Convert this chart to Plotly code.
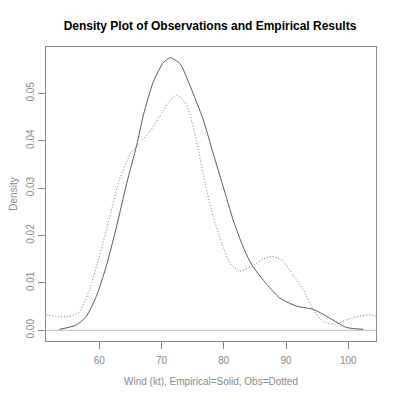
import plotly.graph_objects as go

# Empirical (solid) density curve
emp_x = [53.6, 56.3, 57.9, 59.5, 61.1, 62.7, 64.4, 66.0, 67.1, 68.7, 70.3, 71.4, 73.0, 74.6,
         76.7, 78.3, 79.9, 81.5, 83.1, 84.5, 86.9, 89.0, 91.7, 94.4, 97.1, 99.7, 102.4]
emp_y = [0.0002, 0.0011, 0.0029, 0.0071, 0.0134, 0.0215, 0.0310, 0.0390, 0.0455, 0.0525, 0.0565,
         0.0575, 0.0562, 0.0515, 0.0444, 0.0373, 0.0303, 0.0233, 0.0176, 0.0138, 0.0097, 0.0068,
         0.0051, 0.0044, 0.0025, 0.0006, 0.0002]

# Observations (dotted) density curve
obs_x = [51.0, 53.6, 55.2, 56.8, 58.4, 60.0, 61.7, 63.2, 64.9, 66.0, 68.1, 70.3, 71.4, 72.4,
         73.2, 74.0, 74.6, 75.6, 77.0, 78.3, 79.7, 81.0, 82.6, 84.5, 86.3, 87.6, 88.6, 89.6,
         91.2, 92.8, 94.4, 96.0, 97.9, 99.7, 101.9, 103.5, 105.0]
obs_y = [0.0033, 0.0029, 0.0029, 0.0039, 0.0085, 0.0155, 0.0240, 0.0316, 0.0370, 0.0389, 0.0419,
         0.0464, 0.0486, 0.0496, 0.0490, 0.0476, 0.0454, 0.0400, 0.0310, 0.0240, 0.0184, 0.0141,
         0.0125, 0.0135, 0.0150, 0.0156, 0.0153, 0.0145, 0.0115, 0.0085, 0.0043, 0.0018, 0.0013,
         0.0022, 0.0030, 0.0032, 0.0028]

x_ticks = [60, 70, 80, 90, 100]
y_ticks = [0.00, 0.01, 0.02, 0.03, 0.04, 0.05]
y_tick_text = ["0.00", "0.01", "0.02", "0.03", "0.04", "0.05"]

FONT = "Liberation Sans, Arial, sans-serif"
GRAY = "#8a8a8a"

# The page body adds an 8px margin at top/left, so the figure is 8px smaller.
W, H = 392, 391

fig = go.Figure()
fig.add_trace(go.Scatter(x=obs_x, y=obs_y, mode="lines",
                         line=dict(color="#7a7a7a", width=1, dash="1px,2px", shape="spline",
                                   smoothing=0.6),
                         showlegend=False, hoverinfo="skip"))
fig.add_trace(go.Scatter(x=emp_x, y=emp_y, mode="lines",
                         line=dict(color="#5a5a5a", width=1, shape="spline", smoothing=0.6),
                         showlegend=False, hoverinfo="skip"))

fig.add_shape(type="line", xref="paper", yref="y", x0=0, x1=1, y0=0, y1=0,
              line=dict(color="#c0c0c0", width=1), layer="below")

fig.update_layout(
    width=W, height=H,
    margin=dict(l=38, r=24, t=39, b=58),
    paper_bgcolor="white", plot_bgcolor="white",
    font=dict(family=FONT, color=GRAY, size=10),
    title=dict(text="<b>Density Plot of Observations and Empirical Results</b>",
               x=(210 - 8) / W, xanchor="center", y=1 - 17.5 / H, yanchor="middle",
               font=dict(family=FONT, size=12, color="#000000")),
    xaxis=dict(range=[51.44, 104.45], tickvals=x_ticks, ticks="outside", ticklen=7,
               ticklabelstandoff=3,
               tickcolor=GRAY, showline=True, linecolor=GRAY, mirror=True, showgrid=False,
               zeroline=False, tickfont=dict(size=10, color=GRAY), automargin=False,
               title=dict(text="Wind (kt), Empirical=Solid, Obs=Dotted",
                          font=dict(size=10, color=GRAY), standoff=12)),
    yaxis=dict(range=[-0.00226, 0.05977], tickvals=y_ticks, ticktext=y_tick_text,
               ticks="outside", ticklen=7, tickangle=-90, automargin=False,
               tickcolor=GRAY, showline=True, linecolor=GRAY, mirror=True, showgrid=False,
               zeroline=False, tickfont=dict(size=10, color=GRAY),
               title=dict(text="Density", font=dict(size=10, color=GRAY), standoff=8)),
)

fig.write_html("out.html")
